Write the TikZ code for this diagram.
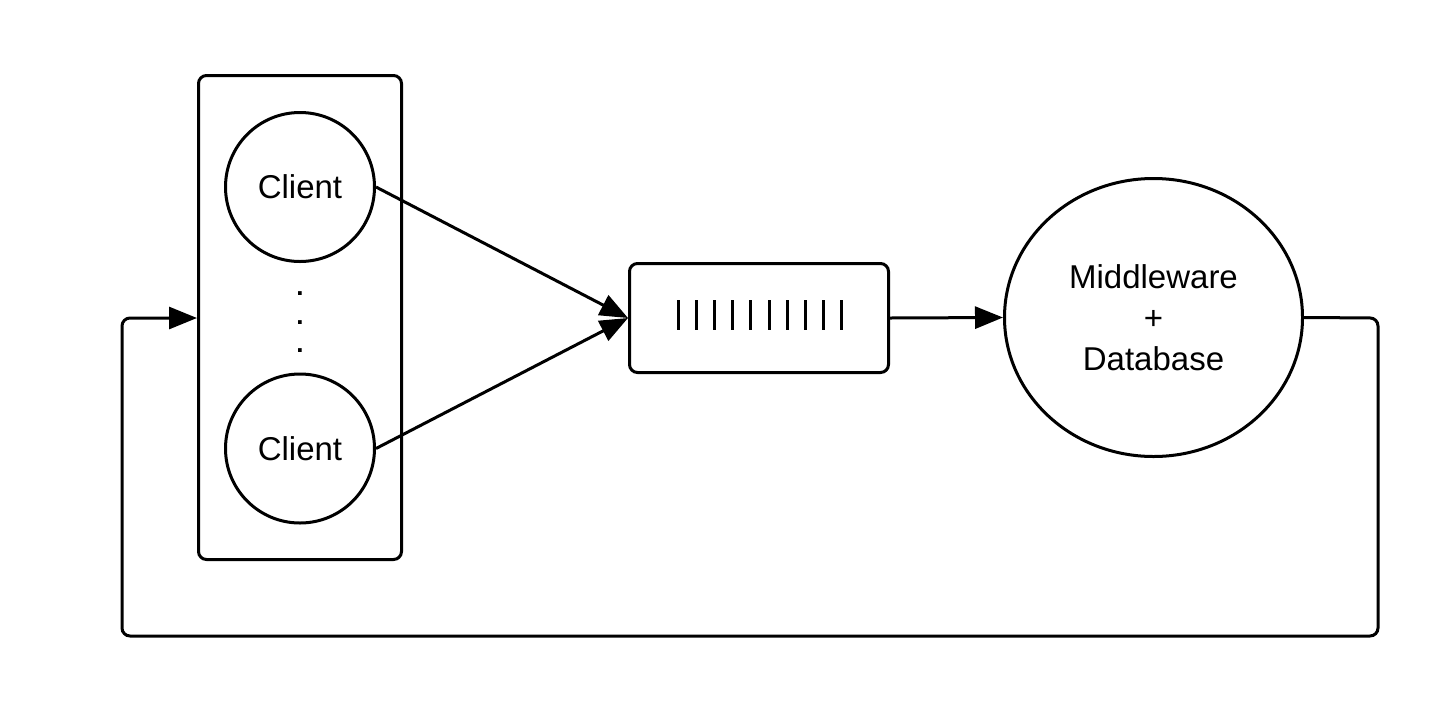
\documentclass[tikz,border=0pt]{standalone}
\usepackage{fontspec}
\setmainfont{Liberation Sans}
\usetikzlibrary{arrows.meta,shapes.geometric}
\begin{document}
\begin{tikzpicture}[x=1pt,y=-1pt,
  line width=3pt,
  lbl/.style={font=\fontsize{33}{41}\selectfont},
  client/.style={draw,circle,minimum size=149pt,inner sep=0pt,lbl},
  rbox/.style={draw,rectangle,rounded corners=8pt,inner sep=0pt},
  arr/.style={-{Triangle[length=28pt,width=22pt]}},
  bar/.style={line width=3pt},
  dotlbl/.style={font=\fontsize{26}{28.5}\selectfont\bfseries,align=center,inner sep=0pt}
]
\useasboundingbox (0,0) rectangle (1453,713);
\fill[white] (0,0) rectangle (1453,713);
% container
\node[rbox,minimum width=203pt,minimum height=484pt] (box) at (300,317.5) {};
\node[client] (c1) at (300,187) {Client};
\node[client] (c2) at (300,448.5) {Client};
\node[dotlbl] (dots) at (300,322.5) {.\\.\\.};
% queue
\node[rbox,minimum width=259pt,minimum height=109pt] (q) at (759,318) {};
\foreach \i in {0,...,9}{
  \draw[bar] ({678+\i*18.2},300) -- ({678+\i*18.2},330);
}
% middleware
\node[draw,ellipse,minimum width=298pt,minimum height=278pt,inner sep=0pt,lbl,align=center] (mw) at (1153.5,317.5) {Middleware\\+\\Database};
% arrows
\draw[arr] (c1.east) -- (q.west);
\draw[arr] (c2.east) -- (q.west);
\draw[arr] (q.east) -- (mw.west);
\coordinate (f1) at (1378,318);
\coordinate (f2) at (1378,636);
\coordinate (f3) at (122,636);
\coordinate (f4) at (122,318);
\draw[arr,rounded corners=8pt] (mw.east) -- (f1) -- (f2) -- (f3) -- (f4) -- (box.west |- f4);
\end{tikzpicture}
\end{document}
